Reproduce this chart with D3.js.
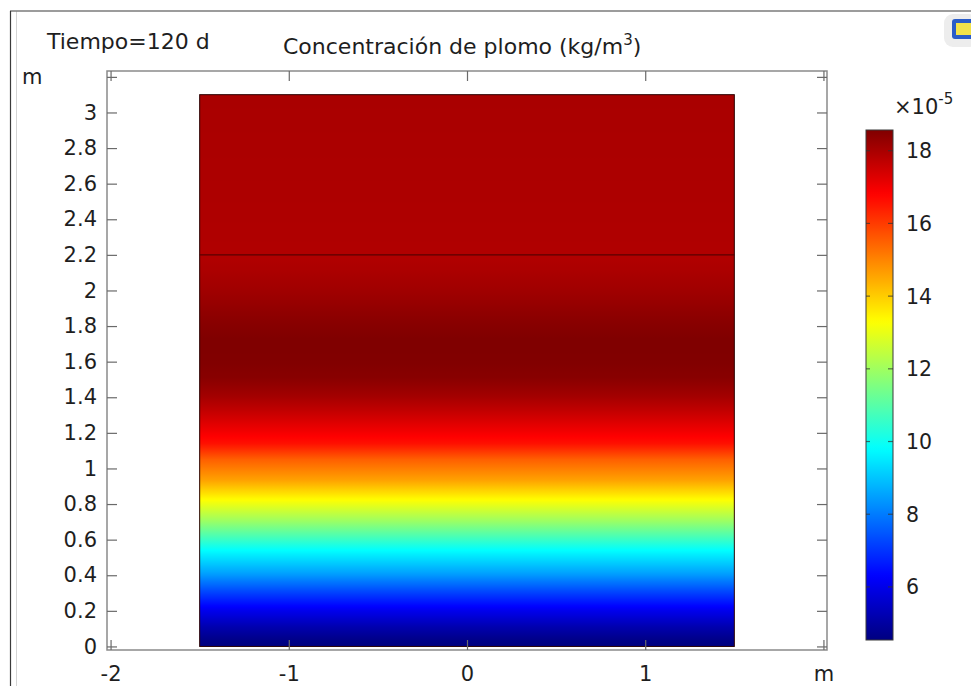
<!DOCTYPE html>
<html>
<head>
<meta charset="utf-8">
<script src="https://cdn.jsdelivr.net/npm/d3@7"></script>
<style>
  html, body { margin: 0; padding: 0; background: #fff; }
  svg { display: block; font-family: "DejaVu Sans", sans-serif; }
</style>
</head>
<body>
<svg id="chart" width="971" height="686"></svg>
<script>
// ---- data ----
const timeLabel = "Tiempo=120 d";
const titleMain = "Concentración de plomo (kg/m";
const titleSup = "3";
const titleEnd = ")";
const xTicks = [-2, -1, 0, 1, 2];
const xTickLabels = ["-2", "-1", "0", "1", "m"];
const yTicks = [0, 0.2, 0.4, 0.6, 0.8, 1, 1.2, 1.4, 1.6, 1.8, 2, 2.2, 2.4, 2.6, 2.8, 3, 3.2];
const yTickLabels = ["0", "0.2", "0.4", "0.6", "0.8", "1", "1.2", "1.4", "1.6", "1.8", "2", "2.2", "2.4", "2.6", "2.8", "3", "m"];
const domainX = [-1.5, 1.5];
const domainTop = 3.1;
const layerBoundary = 2.2;
// vertical concentration profile (height in m, concentration ×1e-5 kg/m³)
const profileZ = [0, 0.036, 0.11, 0.205, 0.30, 0.41, 0.54, 0.64, 0.71, 0.823, 0.935, 1.05, 1.14, 1.22, 1.33, 1.41, 1.51, 1.61, 1.72, 1.83, 2.0, 2.17, 2.2, 2.6, 3.1];
const profileC = [4.55, 4.65, 5.2, 6.08, 7.17, 8.5, 9.8, 11.1, 12.0, 13.3, 14.6, 15.5, 16.6, 17.06, 17.69, 18.1, 18.45, 18.55, 18.57, 18.43, 18.12, 17.9, 17.9, 17.95, 18.0];
const cRange = [4.54, 18.57];
const cbarTicks = [6, 8, 10, 12, 14, 16, 18];
const cbarTickLabels = ["6", "8", "10", "12", "14", "16", "18"];
const cbarExpBase = "×10";
const cbarExp = "-5";

// ---- scales ----
const svg = d3.select("#chart");
const x = d3.scaleLinear([-2.02, 2.02], [107, 827]);
const y = d3.scaleLinear([-0.02, 3.233], [650, 71]);
const cy = d3.scaleLinear(cRange, [640, 130]);

// jet colormap
const jet = v => {
  const t = Math.max(0, Math.min(1, (v - cRange[0]) / (cRange[1] - cRange[0])));
  const cl = a => Math.max(0, Math.min(1, a));
  const r = cl(Math.min(4 * t - 1.5, -4 * t + 4.5));
  const g = cl(Math.min(4 * t - 0.5, -4 * t + 3.5));
  const b = cl(Math.min(4 * t + 0.5, -4 * t + 2.5));
  return d3.rgb(r * 255, g * 255, b * 255).formatHex();
};

// ---- window chrome ----
svg.append("line").attr("x1", 10.5).attr("x2", 10.5).attr("y1", 11).attr("y2", 686).attr("stroke", "#3a3a3a").attr("stroke-width", 1.2);
svg.append("line").attr("x1", 16.5).attr("x2", 16.5).attr("y1", 11.5).attr("y2", 686).attr("stroke", "#d4d4d4").attr("stroke-width", 1);
svg.append("line").attr("x1", 10).attr("x2", 971).attr("y1", 11).attr("y2", 11).attr("stroke", "#3a3a3a").attr("stroke-width", 1.2);
// toolbar icon (partially visible)
svg.append("rect").attr("x", 944).attr("y", 14).attr("width", 34).attr("height", 33).attr("rx", 9).attr("fill", "#ededed");
svg.append("rect").attr("x", 952).attr("y", 19).attr("width", 22).attr("height", 20).attr("rx", 3).attr("fill", "#2a5cc8");
svg.append("rect").attr("x", 956).attr("y", 23).attr("width", 16).attr("height", 12).attr("fill", "#f2e24a");

const defs = svg.append("defs");

// ---- field gradient ----
const prof = d3.scaleLinear(profileZ, profileC);
const fg = defs.append("linearGradient").attr("id", "field")
  .attr("gradientUnits", "userSpaceOnUse")
  .attr("x1", 0).attr("x2", 0).attr("y1", y(0)).attr("y2", y(domainTop));
d3.range(0, 311).forEach(i => {
  const z = i / 100;
  fg.append("stop").attr("offset", z / domainTop).attr("stop-color", jet(prof(z)));
});

svg.append("rect")
  .attr("x", x(domainX[0])).attr("y", y(domainTop))
  .attr("width", x(domainX[1]) - x(domainX[0]))
  .attr("height", y(0) - y(domainTop))
  .attr("fill", "url(#field)")
  .attr("stroke", "#2a0000").attr("stroke-width", 1);
svg.append("line")
  .attr("x1", x(domainX[0])).attr("x2", x(domainX[1]))
  .attr("y1", y(layerBoundary)).attr("y2", y(layerBoundary))
  .attr("stroke", "#5a0000").attr("stroke-width", 1.2);

// ---- frame & axes ----
const frameCol = "#8a8a8a";
const tickCol = "#6a6a6a";
const textCol = "#1e1e1e";
svg.append("rect").attr("x", 107).attr("y", 71).attr("width", 720).attr("height", 579)
  .attr("fill", "none").attr("stroke", frameCol).attr("stroke-width", 1.5);

const styleAxis = g => {
  g.select(".domain").remove();
  g.selectAll(".tick line").attr("stroke", tickCol).attr("stroke-width", 1.2);
  g.selectAll(".tick text").attr("fill", textCol).attr("font-size", 21).attr("font-family", "DejaVu Sans, sans-serif");
};

svg.append("g").attr("transform", "translate(0,650)")
  .call(d3.axisBottom(x).tickValues(xTicks).tickSize(-10).tickPadding(16)
    .tickFormat((d, i) => xTickLabels[i]))
  .call(styleAxis);
svg.append("g").attr("transform", "translate(0,71)")
  .call(d3.axisTop(x).tickValues(xTicks).tickSize(-10).tickFormat(""))
  .call(styleAxis);
svg.append("g").attr("transform", "translate(107,0)")
  .call(d3.axisLeft(y).tickValues(yTicks).tickSize(-10).tickPadding(10)
    .tickFormat((d, i) => yTickLabels[i] === "m" ? "" : yTickLabels[i]))
  .call(styleAxis);
svg.append("g").attr("transform", "translate(827,0)")
  .call(d3.axisRight(y).tickValues(yTicks).tickSize(-10).tickFormat(""))
  .call(styleAxis);
// unit label for y axis
svg.append("text").attr("x", 22).attr("y", y(yTicks[yTicks.length - 1])).attr("dy", "0.32em")
  .attr("font-size", 21).attr("fill", textCol).text(yTickLabels[yTickLabels.length - 1]);

// ---- titles ----
svg.append("text").attr("x", 47).attr("y", 49).attr("font-size", 22).attr("fill", textCol).text(timeLabel);
const tt = svg.append("text").attr("x", 283).attr("y", 54).attr("font-size", 22).attr("fill", textCol);
tt.append("tspan").text(titleMain);
tt.append("tspan").attr("font-size", 15).attr("dy", -9).text(titleSup);
tt.append("tspan").attr("dy", 9).text(titleEnd);

// ---- colorbar ----
const cg = defs.append("linearGradient").attr("id", "cbar")
  .attr("gradientUnits", "userSpaceOnUse")
  .attr("x1", 0).attr("x2", 0).attr("y1", cy(cRange[0])).attr("y2", cy(cRange[1]));
d3.range(0, 101).forEach(i => {
  const v = cRange[0] + (cRange[1] - cRange[0]) * i / 100;
  cg.append("stop").attr("offset", i / 100).attr("stop-color", jet(v));
});
svg.append("rect").attr("x", 866).attr("y", cy(cRange[1])).attr("width", 27)
  .attr("height", cy(cRange[0]) - cy(cRange[1]))
  .attr("fill", "url(#cbar)").attr("stroke", "#3a3a3a").attr("stroke-width", 1);
const ct = svg.append("g");
cbarTicks.forEach((v, i) => {
  ct.append("line").attr("x1", 866).attr("x2", 870).attr("y1", cy(v)).attr("y2", cy(v)).attr("stroke", "#333").attr("stroke-width", 1.2).attr("opacity", 0.7);
  ct.append("line").attr("x1", 888).attr("x2", 893).attr("y1", cy(v)).attr("y2", cy(v)).attr("stroke", "#333").attr("stroke-width", 1.2).attr("opacity", 0.7);
  ct.append("text").attr("x", 906).attr("y", cy(v)).attr("dy", "0.36em")
    .attr("font-size", 20.5).attr("fill", textCol).text(cbarTickLabels[i]);
});
const ex = svg.append("text").attr("x", 894).attr("y", 114).attr("font-size", 21).attr("fill", textCol);
ex.append("tspan").text(cbarExpBase);
ex.append("tspan").attr("font-size", 15).attr("dy", -10).text(cbarExp);
</script>
</body>
</html>
